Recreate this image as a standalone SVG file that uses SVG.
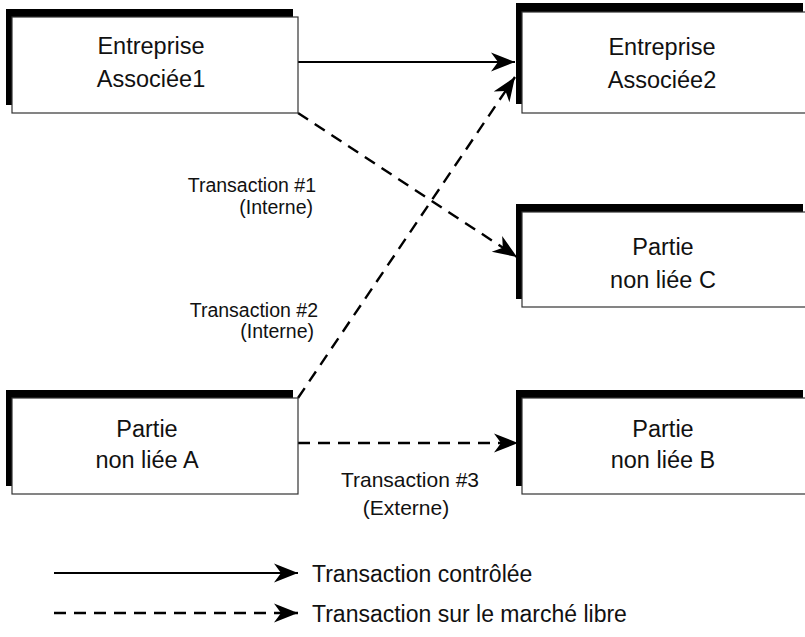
<svg xmlns="http://www.w3.org/2000/svg" width="805" height="637" viewBox="0 0 805 637">
<style>
.shadow{fill:#000}
.box{fill:#fff;stroke:#333;stroke-width:1.2}
.t{font-family:"Liberation Sans",Arial,sans-serif;fill:#111;text-anchor:middle}
.nt{font-size:23.5px}
.lbl{font-family:"Liberation Sans",Arial,sans-serif;fill:#111;font-size:19.5px;text-anchor:end}
.lbl3{font-family:"Liberation Sans",Arial,sans-serif;fill:#111;font-size:21px;text-anchor:middle}
.leg{font-family:"Liberation Sans",Arial,sans-serif;fill:#111;font-size:23px}
.solid{fill:none;stroke:#000;stroke-width:2.2;marker-end:url(#ah)}
.dash{fill:none;stroke:#000;stroke-width:2.4;stroke-dasharray:12 8;marker-end:url(#ah)}
</style>
<defs>
<marker id="ah" viewBox="-25 -10 26 20" refX="0" refY="0" markerWidth="26" markerHeight="20" markerUnits="userSpaceOnUse" orient="auto">
<path d="M0,0 L-24,-9.5 L-17,0 L-24,9.5 Z" fill="#000"/>
</marker>
</defs>
<g id="connectors">
<path class="solid" d="M298,62 L515,62"/>
<path class="dash" d="M298,113 L517,257"/>
<path class="dash" d="M298,398 L515,77"/>
<path class="dash" d="M298,443 L518,443"/>
</g>
<g id="n1">
<rect class="shadow" x="6" y="9" width="287" height="96"/>
<rect class="box" x="12" y="17" width="286" height="96"/>
<text class="t nt" x="151" y="54">Entreprise</text>
<text class="t nt" x="151" y="87">Associée1</text>
</g>
<g id="n2">
<rect class="shadow" x="516" y="3" width="287" height="101"/>
<rect class="box" x="522" y="12" width="290" height="101"/>
<text class="t nt" x="662" y="55">Entreprise</text>
<text class="t nt" x="662" y="88">Associée2</text>
</g>
<g id="nC">
<rect class="shadow" x="516" y="204" width="287" height="95"/>
<rect class="box" x="522" y="212" width="290" height="95"/>
<text class="t nt" x="663" y="255">Partie</text>
<text class="t nt" x="663" y="288">non liée C</text>
</g>
<g id="nA">
<rect class="shadow" x="6" y="390" width="287" height="96"/>
<rect class="box" x="12" y="398" width="286" height="96"/>
<text class="t nt" x="147" y="437">Partie</text>
<text class="t nt" x="147" y="468">non liée A</text>
</g>
<g id="nB">
<rect class="shadow" x="516" y="390" width="287" height="96"/>
<rect class="box" x="522" y="398" width="290" height="96"/>
<text class="t nt" x="663" y="437">Partie</text>
<text class="t nt" x="663" y="468">non liée B</text>
</g>
<g id="labels">
<text class="lbl" x="316" y="192">Transaction #1</text>
<text class="lbl" x="313" y="214">(Interne)</text>
<text class="lbl" x="318" y="317">Transaction #2</text>
<text class="lbl" x="314" y="338">(Interne)</text>
<text class="lbl3" x="410" y="487">Transaction #3</text>
<text class="lbl3" x="406" y="515">(Externe)</text>
</g>
<g id="legend">
<path class="solid" d="M54,573 L298,573"/>
<path class="dash" d="M54,613 L298,613"/>
<text class="leg" x="312" y="582">Transaction contrôlée</text>
<text class="leg" x="312" y="622">Transaction sur le marché libre</text>
</g>
</svg>
